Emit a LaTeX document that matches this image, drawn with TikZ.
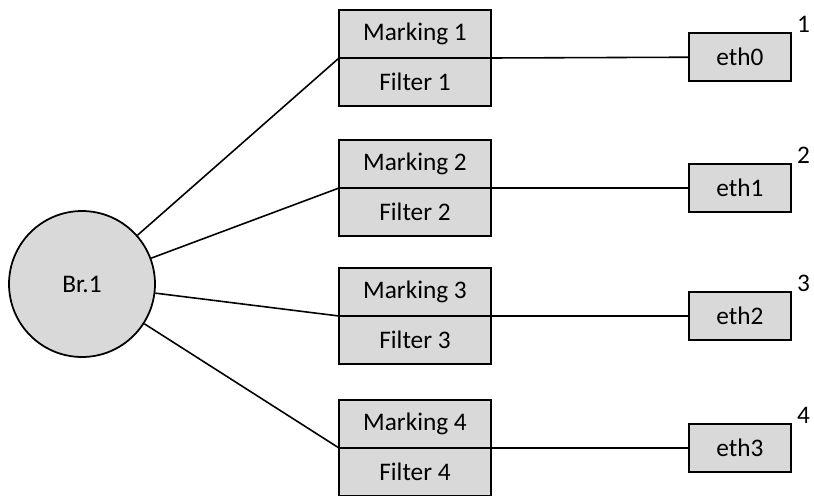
\documentclass[tikz,border=0pt]{standalone}
\usepackage{fontspec}
\setmainfont{Carlito}
\usepackage{tikz}
\definecolor{boxgray}{RGB}{217,217,217}
\tikzset{
  half/.style={draw, fill=boxgray, minimum width=3.04cm, minimum height=0.96cm, inner sep=0pt, outer sep=0pt, line width=1pt},
  port/.style={draw, fill=boxgray, minimum width=2.04cm, minimum height=0.96cm, inner sep=0pt, line width=1pt},
  portnum/.style={anchor=base west, inner sep=0pt, xshift=0.1cm},
  link/.style={line width=0.9pt}
}

\begin{document}
\begin{tikzpicture}[x=0.02cm, y=-0.02cm, font=\fontsize{14.4}{17}\selectfont]
\useasboundingbox (0,0) rectangle (814,495);
\node[circle, draw, fill=boxgray, minimum size=2.92cm, inner sep=0pt, line width=1pt] (br) at (82,284) {Br.1};

\node[half] (mark1) at (415,34) {Marking 1};
\node[half, anchor=north] (filt1) at (mark1.south) {Filter 1};
\node[port] (eth0) at (740,57) {eth0};
\node[portnum] (num1) at (eth0.north east) {1};

\node[half] (mark2) at (415,164) {Marking 2};
\node[half, anchor=north] (filt2) at (mark2.south) {Filter 2};
\node[port] (eth1) at (740,188) {eth1};
\node[portnum] (num2) at (eth1.north east) {2};

\node[half] (mark3) at (415,292) {Marking 3};
\node[half, anchor=north] (filt3) at (mark3.south) {Filter 3};
\node[port] (eth2) at (740,316) {eth2};
\node[portnum] (num3) at (eth2.north east) {3};

\node[half] (mark4) at (415,424) {Marking 4};
\node[half, anchor=north] (filt4) at (mark4.south) {Filter 4};
\node[port] (eth3) at (740,448) {eth3};
\node[portnum] (num4) at (eth3.north east) {4};

% bridge to the filters, filters to the ports
\draw[link] (br) -- (mark1.south west);
\draw[link] (br) -- (mark2.south west);
\draw[link] (br) -- (mark3.south west);
\draw[link] (br) -- (mark4.south west);
\draw[link] (mark1.south east) -- (eth0);
\draw[link] (mark2.south east) -- (eth1);
\draw[link] (mark3.south east) -- (eth2);
\draw[link] (mark4.south east) -- (eth3);
\end{tikzpicture}
\end{document}
